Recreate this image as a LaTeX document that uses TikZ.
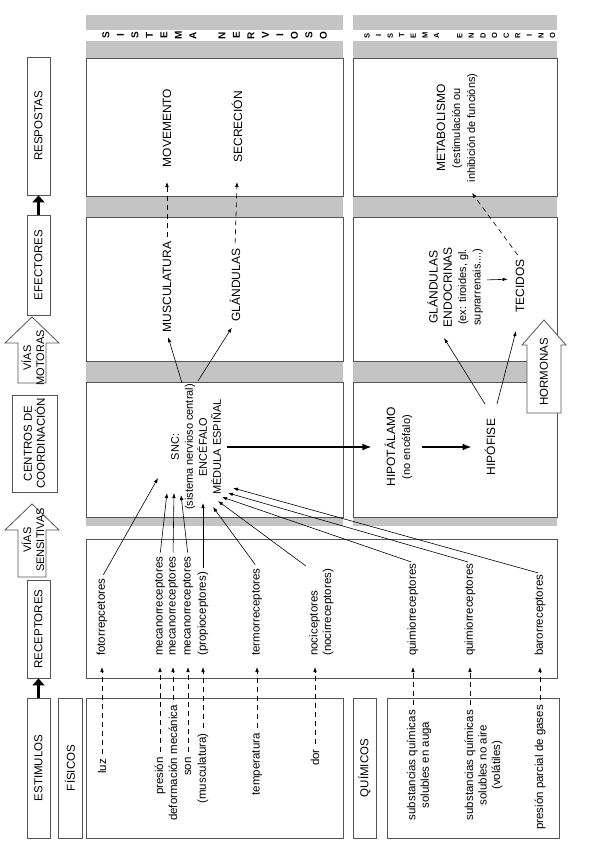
\documentclass[tikz,border=0pt]{standalone}
\usepackage{fontspec}
\setmainfont{Liberation Sans}
\usetikzlibrary{arrows.meta}
\definecolor{boxc}{RGB}{85,85,85}
\definecolor{bandc}{RGB}{196,196,196}
\begin{document}
\begin{tikzpicture}[x=1pt,y=-1pt,
  every node/.style={inner sep=1pt, text=black},
  lc/.style={rotate=90, font=\fontsize{11.5}{13.5}\selectfont},
  uc/.style={rotate=90, font=\fontsize{12}{14}\selectfont},
  hbox/.style={rotate=90, draw=boxc, line width=0.8pt, fill=white, font=\fontsize{11.5}{13}\selectfont, align=center, inner sep=0pt},
  panel/.style={draw=boxc, line width=0.8pt, fill=white},
  arr/.style={-{Latex[length=5pt,width=3.6pt]}, line width=0.6pt},
  darr/.style={arr, dash pattern=on 5pt off 4pt, shorten <=4pt},
  bigarr/.style={-{Latex[length=9pt,width=7pt]}, line width=1.6pt},
  blk/.style={-{Triangle[length=7pt,width=12pt]}, line width=3pt},
  blockarrow/.style={draw=boxc, line width=0.8pt, fill=white},
  sl/.style={rotate=90, inner sep=0pt, font=\fontsize{10}{10}\selectfont\bfseries},
  sle/.style={rotate=90, inner sep=0pt, font=\fontsize{7.5}{8}\selectfont\bfseries}
]
\useasboundingbox (0,0) rectangle (599,848);
% column backgrounds
\fill[bandc] (86,15) rectangle (343,526);
\fill[bandc] (353,15) rectangle (557,526);
\fill[white] (86,30) rectangle (343,41);
\fill[white] (353,30) rectangle (557,41);
\draw[panel] (86,58) rectangle (343,196);
\draw[panel] (86,217) rectangle (343,361);
\draw[panel] (86,382) rectangle (343,517);
\draw[panel] (353,58) rectangle (557,196);
\draw[panel] (353,217) rectangle (557,361);
\draw[panel] (353,382) rectangle (557,517);
\draw[panel] (86,539) rectangle (557,678);
\draw[panel] (86,698) rectangle (343,838);
\draw[panel] (387,698) rectangle (559,838);
% strip letters
\foreach \l [count=\i from 0] in {S,I,S,T,E,M,A,{},N,E,R,V,I,O,S,O}
  \node[sl] (sn\i) at ({106+14.5*\i},35.5) {\l};
\foreach \l [count=\i from 0] in {S,I,S,T,E,M,A,{},E,N,D,O,C,R,I,N,O}
  \node[sle] (se\i) at ({367+11.6*\i},35.5) {\l};
% header column
\node[hbox, minimum width=138pt, minimum height=23pt] (resp) at (38.5,126) {RESPOSTAS};
\node[hbox, minimum width=100pt, minimum height=23pt] (efec) at (38.5,265) {EFECTORES};
\node[hbox, minimum width=97pt, minimum height=45pt] (cent) at (34.5,443.5) {CENTROS DE\\COORDINACIÓN};
\node[hbox, minimum width=98pt, minimum height=23pt] (recep) at (38.5,629) {RECEPTORES};
\node[hbox, minimum width=140pt, minimum height=23pt] (estim) at (38.5,768) {ESTIMULOS};
\node[hbox, minimum width=140pt, minimum height=24pt] (fis) at (70,768) {FÍSICOS};
\node[hbox, minimum width=140pt, minimum height=23pt] (quim) at (364.5,768) {QUÍMICOS};
\draw[blk] (estim.east) -- (recep.west);
\draw[blk] (efec.east) -- (resp.west);
\draw[blockarrow] (18,383) -- (18,343) -- (5,343) -- (32,317) -- (59,343) -- (46,343) -- (46,383) -- cycle;
\node[rotate=90, align=center, font=\fontsize{11}{13}\selectfont] (vmot) at (33,358) {VÍAS\\MOTORAS};
\draw[blockarrow] (18,577) -- (18,530) -- (5,530) -- (32,504) -- (59,530) -- (46,530) -- (46,577) -- cycle;
\node[rotate=90, align=center, font=\fontsize{11}{13}\selectfont] (vsen) at (33,540) {VÍAS\\SENSITIVAS};
% nervous system content
\node[uc] (mov) at (167,128) {MOVEMENTO};
\node[uc] (secr) at (237,127) {SECRECIÓN};
\node[uc] (musc) at (167,287) {MUSCULATURA};
\node[uc] (glan) at (235,285) {GLÁNDULAS};
\coordinate (movtip) at (167,182);
\coordinate (secrtip) at (237,182);
\draw[darr] (musc.east) -- (movtip);
\draw[darr] (glan.east) -- (secrtip);
\node[rotate=90, align=center, font=\fontsize{11}{14}\selectfont] (snc) at (196,447) {SNC:\\(sistema nervioso central)\\ENCÉFALO\\MÉDULA ESPIÑAL};
\coordinate (sncA) at (182,383);
\coordinate (sncB) at (198,381);
\draw[arr, shorten >=4pt] (sncA) -- (musc.west);
\draw[arr, shorten >=6pt] (sncB) -- (glan.west);
% endocrine content
\node[rotate=90, align=center, font=\fontsize{11}{15}\selectfont] (hipot) at (398.5,447) {{\fontsize{12}{14}\selectfont HIPOTÁLAMO}\\(no encéfalo)};
\node[uc] (hipof) at (490,447) {HIPÓFISE};
\draw[bigarr, shorten <=5pt, shorten >=12pt] (snc.south) -- (hipot.north);
\draw[bigarr, shorten <=8pt, shorten >=12pt] (hipot.south) -- (hipof.north);
\node[rotate=90, align=center, font=\fontsize{11}{14.3}\selectfont] (glend) at (455,287) {{\fontsize{12}{14}\selectfont GLÁNDULAS}\\{\fontsize{12}{14}\selectfont ENDOCRINAS}\\(ex: tiroides, gl.\\suprarrenais....)};
\node[uc] (tec) at (520,286) {TECIDOS};
\draw[arr, shorten <=3pt, shorten >=7pt] ([yshift=7pt]glend.south) -- ([yshift=7pt]tec.north);
\node[rotate=90, align=center, font=\fontsize{11}{15}\selectfont] (metab) at (457,128) {{\fontsize{12}{14}\selectfont METABOLISMO}\\(estimulación ou\\inhibición de funcións)};
\coordinate (metip) at (472,193);
\draw[darr] (tec.east) -- (metip);
\coordinate (hfA) at (485,404);
\coordinate (hfB) at (497,404);
\coordinate (gltip) at (444,338);
\coordinate (tectip) at (516,331);
\draw[arr] (hfA) -- (gltip);
\draw[arr] (hfB) -- (tectip);
\draw[blockarrow] (527,413) -- (527,345) -- (522,345) -- (544,320) -- (566,345) -- (561,345) -- (561,413) -- cycle;
\node[lc] (horm) at (544,372) {HORMONAS};
% receptors
\node[lc, anchor=west] (fotor) at (102,657) {fotorrepcetores};
\node[lc, anchor=west] (mec1) at (160,657) {mecanorreceptores};
\node[lc, anchor=west] (mec2) at (173,657) {mecanorreceptores};
\node[lc, anchor=west] (mec3) at (188,657) {mecanorreceptores};
\node[lc, anchor=west] (prop) at (203,657) {(propioceptores)};
\node[lc, anchor=west] (termo) at (257,657) {termorreceptores};
\node[lc, anchor=west, align=left] (noci) at (321.5,657) {nociceptores\\(nocirreceptores)};
\node[lc, anchor=west] (qr1) at (413,657) {quimiorreceptores};
\node[lc, anchor=west] (qr2) at (470,657) {quimiorreceptores};
\node[lc, anchor=west] (baro) at (540,657) {barorreceptores};
% stimuli
\node[lc, anchor=east] (luz) at (102,758) {luz};
\node[lc, anchor=east] (pres) at (160,756) {presión};
\node[lc, anchor=east] (defm) at (173,704) {deformación mecánica};
\node[lc, anchor=east] (son) at (188,756) {son};
\node[lc, anchor=east] (muscs) at (203,732) {(musculatura)};
\node[lc, anchor=east] (temp) at (257,732) {temperatura};
\node[lc, anchor=east] (dor) at (315,748) {dor};
\node[lc, anchor=east, align=center] (ch1) at (419,709) {substancias químicas\\solubles en auga};
\node[lc, anchor=east, align=center] (ch2) at (483.5,709) {substancias químicas\\solubles no aire\\(volátiles)};
\node[lc, anchor=east] (ppg) at (540,704) {presión parcial de gases};
% stimulus -> receptor
\draw[darr, shorten >=10pt] (luz.east) -- (fotor.west);
\draw[darr, shorten >=10pt] (pres.east) -- (mec1.west);
\draw[darr, shorten >=10pt] (defm.east) -- (mec2.west);
\draw[darr, shorten >=10pt] (son.east) -- (mec3.west);
\draw[darr, shorten >=10pt] (muscs.east) -- (prop.west);
\draw[darr, shorten >=10pt] (temp.east) -- (termo.west);
\draw[darr, shorten >=10pt] (dor.east) -- (dor.east |- noci.west);
\draw[darr, shorten >=10pt] (qr1.west |- ch1.east) -- (qr1.west);
\draw[darr, shorten >=10pt] (qr2.west |- ch2.east) -- (qr2.west);
\draw[darr, shorten >=10pt] (ppg.east) -- (baro.west);
% receptor -> SNC
\coordinate (tfo) at (158,478);
\coordinate (tm1) at (167,493);
\coordinate (tm2) at (174,493);
\coordinate (tm3) at (181,495);
\coordinate (tpr) at (203,503);
\coordinate (tte) at (213,507);
\coordinate (tno) at (218,501);
\coordinate (tq1) at (222,497);
\coordinate (tq2) at (228,493);
\coordinate (tba) at (233,488);
\draw[arr, shorten <=3pt] (fotor.east) -- (tfo);
\draw[arr, shorten <=3pt] (mec1.east) -- (tm1);
\draw[arr, shorten <=3pt] (mec2.east) -- (tm2);
\draw[arr, shorten <=3pt] (mec3.east) -- (tm3);
\draw[arr, shorten <=3pt] (prop.east) -- (tpr);
\draw[arr, shorten <=3pt] (termo.east) -- (tte);
\draw[arr, shorten <=3pt] (noci.north east) -- (tno);
\draw[arr, shorten <=2pt] (qr1.east) -- (tq1);
\draw[arr, shorten <=2pt] (qr2.east) -- (tq2);
\draw[arr, shorten <=2pt] (baro.east) -- (tba);
\end{tikzpicture}
\end{document}
